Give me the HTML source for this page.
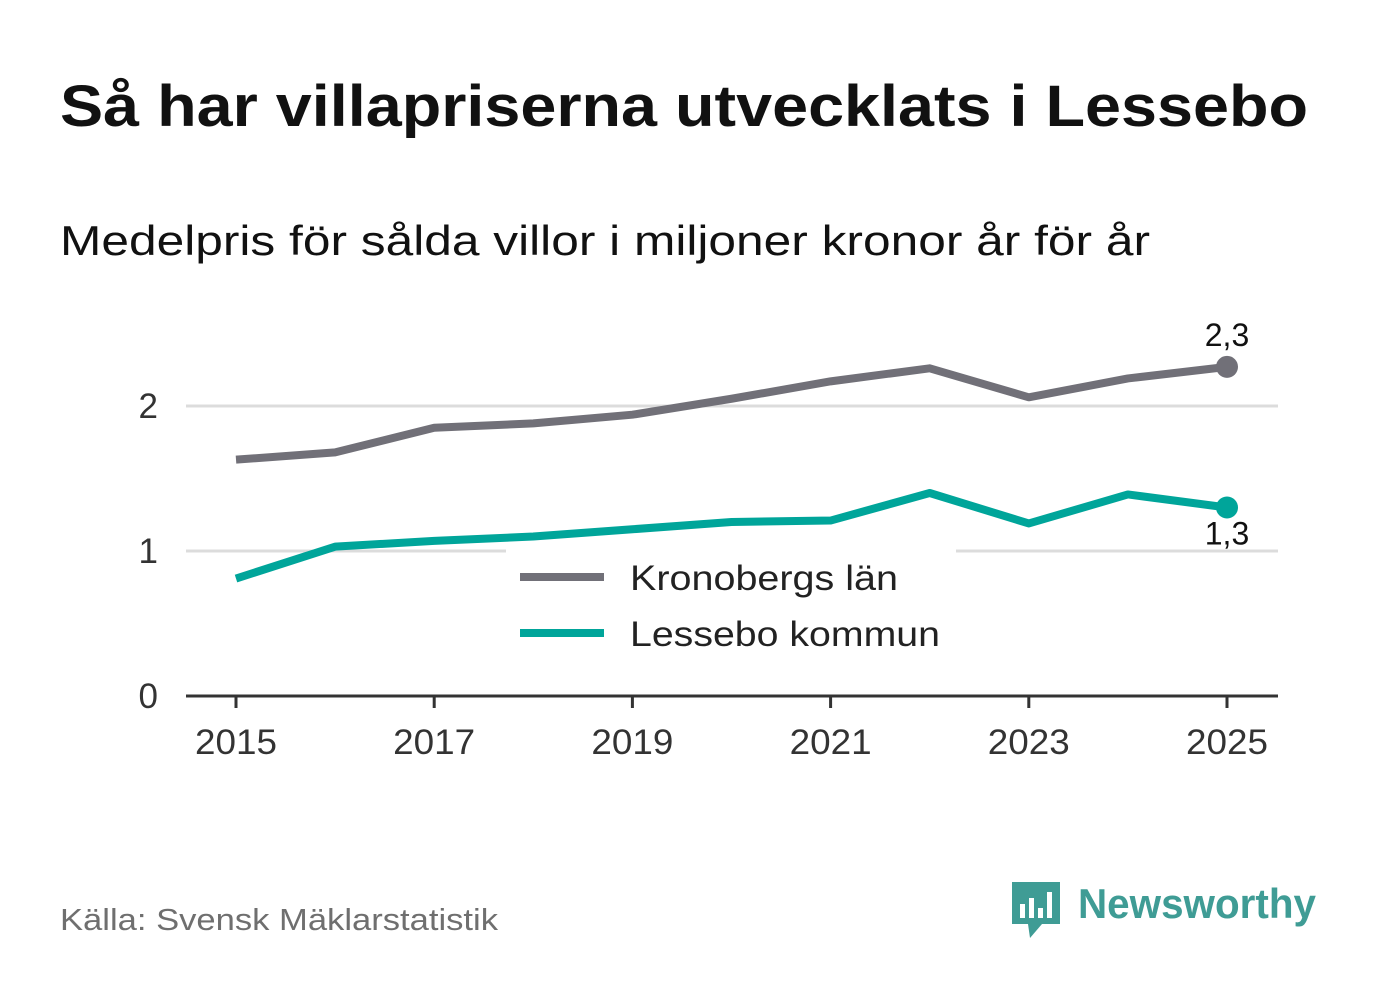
<!DOCTYPE html>
<html><head><meta charset="utf-8"><style>
body{margin:0;background:#fff;font-family:"Liberation Sans",sans-serif;}
svg text{font-family:"Liberation Sans",sans-serif;}
</style></head><body>
<svg id="c" width="1382" height="999">
<text x="60" y="126" font-size="58" font-weight="bold" fill="#111" textLength="1248" lengthAdjust="spacingAndGlyphs">Så har villapriserna utvecklats i Lessebo</text>
<text x="60" y="255" font-size="42" fill="#111" textLength="1090" lengthAdjust="spacingAndGlyphs">Medelpris för sålda villor i miljoner kronor år för år</text>
<g id="grid"></g>
<g id="lines"></g>
<rect x="506" y="548" width="450" height="110" fill="#fff"/>
<line x1="520" y1="577" x2="604" y2="577" stroke="#717078" stroke-width="8"/>
<text x="630" y="590" font-size="35" fill="#222" textLength="268" lengthAdjust="spacingAndGlyphs">Kronobergs län</text>
<line x1="520" y1="633" x2="604" y2="633" stroke="#00a59a" stroke-width="8"/>
<text x="630" y="646" font-size="35" fill="#222" textLength="310" lengthAdjust="spacingAndGlyphs">Lessebo kommun</text>
<text x="60" y="930" font-size="31" fill="#6f6f6f" textLength="438" lengthAdjust="spacingAndGlyphs">Källa: Svensk Mäklarstatistik</text>
<g>
<path d="M1012 882 h48 v42 h-18 l-12 14 l-2 -14 h-16 z" fill="#3f9c95"/>
<rect x="1020" y="904" width="5" height="14" fill="#fff"/><rect x="1029" y="898" width="5" height="20" fill="#fff"/><rect x="1038" y="908" width="5" height="10" fill="#fff"/><rect x="1047" y="892" width="5" height="26" fill="#fff"/>
<text x="1078" y="918" font-size="42" font-weight="bold" fill="#3f9c95" textLength="238" lengthAdjust="spacingAndGlyphs">Newsworthy</text>
</g>
</svg>
<script>
const years=[2015,2016,2017,2018,2019,2020,2021,2022,2023,2024,2025];
const kronoberg=[1.63,1.68,1.85,1.88,1.94,2.05,2.17,2.26,2.06,2.19,2.27];
const lessebo=[0.81,1.03,1.07,1.10,1.15,1.20,1.21,1.40,1.19,1.39,1.30];
const yTicks=[0,1,2];
const xTicks=[2015,2017,2019,2021,2023,2025];
const NS="http://www.w3.org/2000/svg";
const x=v=>236+(v-2015)*99.1;
const y=v=>696-v*145;
function mk(t,a,p){const e=document.createElementNS(NS,t);for(const k in a)e.setAttribute(k,a[k]);p.appendChild(e);return e;}
const g=document.getElementById('grid'),L=document.getElementById('lines');
yTicks.forEach(t=>{
 if(t>0){const l=mk('line',{x1:186,x2:1278,y1:y(t),y2:y(t),stroke:'#dcdcdc','stroke-width':3},g);
 
 }
 const tx=mk('text',{x:158,y:y(t)+12,'font-size':35,fill:'#333','text-anchor':'end'},g);tx.textContent=t;
 
 
});
const ax=mk('line',{x1:186,x2:1278,y1:696,y2:696,stroke:'#333','stroke-width':3},g);


xTicks.forEach(t=>{
 const tk=mk('line',{x1:x(t),x2:x(t),y1:696,y2:708,stroke:'#333','stroke-width':3},g);
 
 
 const tx=mk('text',{x:x(t),y:754,'font-size':35,fill:'#333','text-anchor':'middle',textLength:82,lengthAdjust:'spacingAndGlyphs'},g);tx.textContent=t;
 
 
});
function series(vals,col,name,lab,ly){
 const p=mk('polyline',{points:vals.map((v,i)=>x(years[i])+','+y(v)).join(' '),fill:'none',stroke:col,'stroke-width':8,'stroke-linejoin':'round'},L);
 
 
 const n=vals.length-1;
 const c=mk('circle',{cx:x(years[n]),cy:y(vals[n]),r:11,fill:col},L);
 
 
 const t=mk('text',{x:x(years[n]),y:y(vals[n])+ly,'font-size':32,fill:'#111','text-anchor':'middle'},L);
 t.textContent=vals[n].toFixed(1).replace('.',',');
 
 
}
series(kronoberg,'#717078','kronoberg',0,-21);
series(lessebo,'#00a59a','lessebo',0,37);
</script>
</body></html>
